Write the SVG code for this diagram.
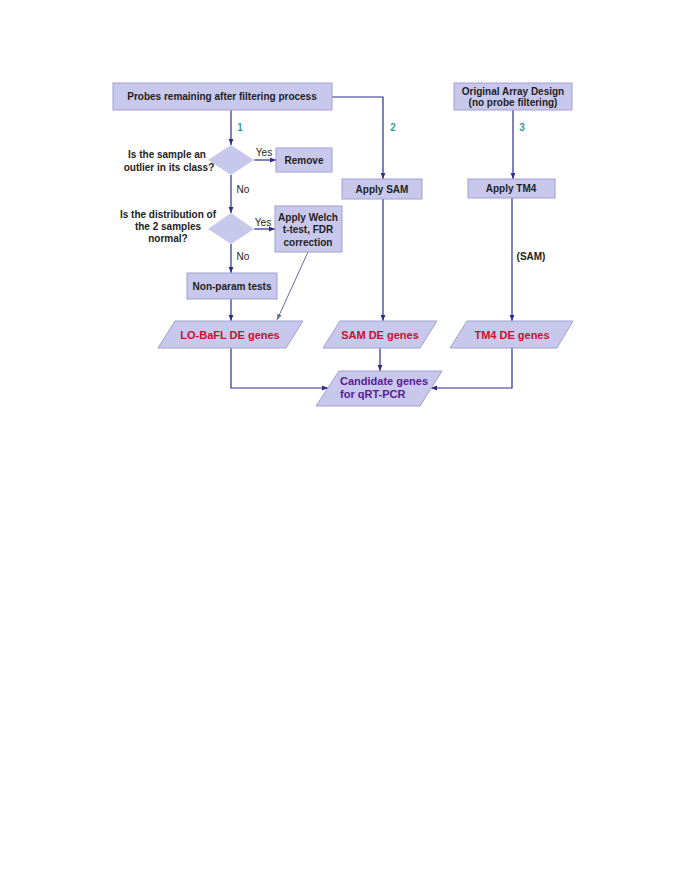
<svg xmlns="http://www.w3.org/2000/svg" width="685" height="886" viewBox="0 0 685 886">
<defs>
<style>
.box{fill:#c8c8ec;stroke:#a0a0d0;stroke-width:1}
.t{font-family:"Liberation Sans",Arial,sans-serif;font-size:10px;font-weight:bold;fill:#222}
.tn{font-family:"Liberation Sans",Arial,sans-serif;font-size:10px;fill:#222}
.num{font-family:"Liberation Sans",Arial,sans-serif;font-size:10px;font-weight:bold;fill:#3a9a9a}
.red{font-family:"Liberation Sans",Arial,sans-serif;font-size:11px;font-weight:bold;fill:#c8102e}
.pur{font-family:"Liberation Sans",Arial,sans-serif;font-size:11px;font-weight:bold;fill:#5a1a9a}
.c{fill:none;stroke:#2e2e8a;stroke-width:1.2}
.cl{fill:none;stroke:#6a6aa8;stroke-width:1}
</style>
<marker id="ah" viewBox="0 0 10 10" refX="10" refY="5" markerWidth="6" markerHeight="6" orient="auto" markerUnits="userSpaceOnUse">
<path d="M0,1 L10,5 L0,9 z" fill="#2e2e8a"/>
</marker>
<marker id="ahl" viewBox="0 0 10 10" refX="10" refY="5" markerWidth="6" markerHeight="6" orient="auto" markerUnits="userSpaceOnUse">
<path d="M0,1 L10,5 L0,9 z" fill="#6a6aa8"/>
</marker>
</defs>
<rect width="685" height="886" fill="#ffffff"/>

<g id="connectors">
<path class="c" d="M231,110 V145" marker-end="url(#ah)"/>
<path class="c" d="M332,97 H383 V179" marker-end="url(#ah)"/>
<path class="c" d="M254,160 H276" marker-end="url(#ah)"/>
<path class="c" d="M231,175 V213" marker-end="url(#ah)"/>
<path class="c" d="M254,229 H275" marker-end="url(#ah)"/>
<path class="c" d="M231,244 V273" marker-end="url(#ah)"/>
<path class="c" d="M231,299 V321" marker-end="url(#ah)"/>
<path class="cl" d="M308,252 L277,320" marker-end="url(#ahl)"/>
<path class="c" d="M383,199 V321" marker-end="url(#ah)"/>
<path class="c" d="M513,110 V179" marker-end="url(#ah)"/>
<path class="c" d="M512,198 V321" marker-end="url(#ah)"/>
<path class="c" d="M231,348 V388 H328" marker-end="url(#ah)"/>
<path class="c" d="M380,348 V371" marker-end="url(#ah)"/>
<path class="c" d="M512,348 V388 H431" marker-end="url(#ah)"/>
</g>

<g id="labels">
<text class="num" x="240" y="131" text-anchor="middle">1</text>
<text class="num" x="393" y="131" text-anchor="middle">2</text>
<text class="num" x="522" y="131" text-anchor="middle">3</text>
<text class="tn" x="264" y="156" text-anchor="middle">Yes</text>
<text class="tn" x="243" y="193" text-anchor="middle">No</text>
<text class="tn" x="263" y="226" text-anchor="middle">Yes</text>
<text class="tn" x="243" y="260" text-anchor="middle">No</text>
<text class="t" x="531" y="260" text-anchor="middle">(SAM)</text>
</g>

<g id="probes">
<rect class="box" x="113" y="83" width="219" height="27"/>
<text class="t" x="222" y="100" text-anchor="middle">Probes remaining after filtering process</text>
</g>

<g id="original">
<rect class="box" x="454" y="83" width="118" height="27"/>
<text class="t" x="513" y="95" text-anchor="middle">Original Array Design</text>
<text class="t" x="513" y="106" text-anchor="middle">(no probe  filtering)</text>
</g>

<g id="outlier">
<polygon class="box" points="231,145 254,160 231,175 208,160" style="stroke:none"/>
<text class="t" x="167" y="158" text-anchor="middle">Is the sample an</text>
<text class="t" x="169" y="171" text-anchor="middle">outlier in its class?</text>
</g>

<g id="remove">
<rect class="box" x="276" y="148" width="56" height="24"/>
<text class="t" x="304" y="164" text-anchor="middle">Remove</text>
</g>

<g id="normal">
<polygon class="box" points="231,213 254,229 231,244 208,229" style="stroke:none"/>
<text class="t" x="168" y="218" text-anchor="middle">Is the distribution of</text>
<text class="t" x="168" y="230" text-anchor="middle">the 2 samples</text>
<text class="t" x="168" y="242" text-anchor="middle">normal?</text>
</g>

<g id="welch">
<rect class="box" x="275" y="206" width="67" height="46"/>
<text class="t" x="308" y="221" text-anchor="middle">Apply Welch</text>
<text class="t" x="308" y="233" text-anchor="middle">t-test, FDR</text>
<text class="t" x="308" y="246" text-anchor="middle">correction</text>
</g>

<g id="nonparam">
<rect class="box" x="187" y="273" width="90" height="26"/>
<text class="t" x="232" y="290" text-anchor="middle">Non-param tests</text>
</g>

<g id="applysam">
<rect class="box" x="342" y="179" width="80" height="20"/>
<text class="t" x="382" y="193" text-anchor="middle">Apply SAM</text>
</g>

<g id="applytm4">
<rect class="box" x="468" y="179" width="87" height="19"/>
<text class="t" x="511" y="192" text-anchor="middle">Apply TM4</text>
</g>

<g id="lobafl">
<polygon class="box" points="175,321 303,321 286,348 158,348"/>
<text class="red" x="230" y="339" text-anchor="middle">LO-BaFL DE genes</text>
</g>

<g id="samde">
<polygon class="box" points="340,321 437,321 420,348 323,348"/>
<text class="red" x="380" y="339" text-anchor="middle">SAM DE genes</text>
</g>

<g id="tm4de">
<polygon class="box" points="467,321 573,321 557,348 450,348"/>
<text class="red" x="512" y="339" text-anchor="middle">TM4 DE genes</text>
</g>

<g id="candidate">
<polygon class="box" points="339,371 442,371 420,406 316,406"/>
<text class="pur" x="340" y="385">Candidate genes</text>
<text class="pur" x="340" y="398">for qRT-PCR</text>
</g>
</svg>
